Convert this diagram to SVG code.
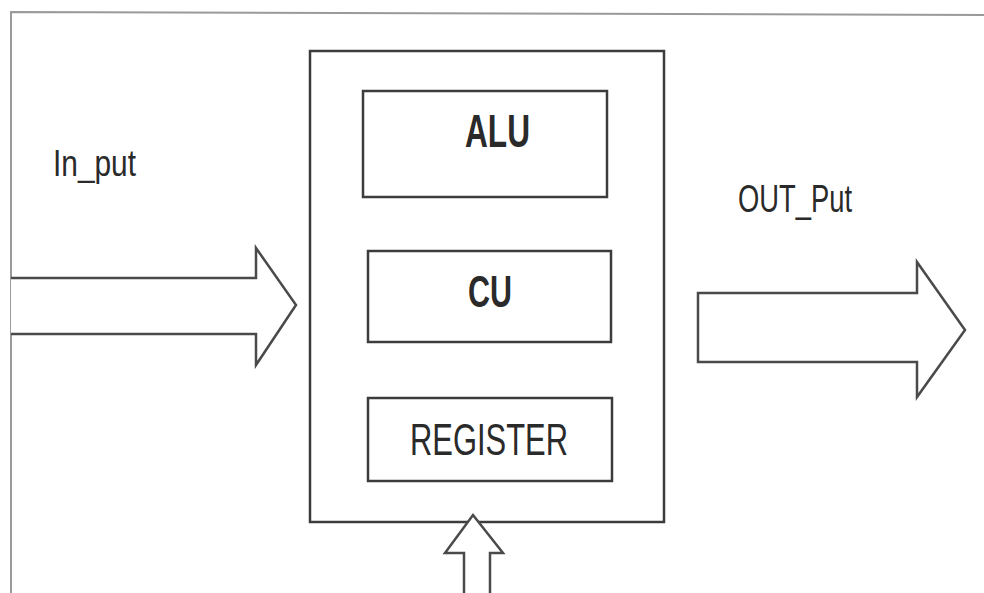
<svg xmlns="http://www.w3.org/2000/svg" width="984" height="593" viewBox="0 0 984 593">
<style>
.frame{fill:none;stroke:#9a9a9a;stroke-width:2}
.box{fill:#fff;stroke:#3c3c3c;stroke-width:2.5}
.arrow{fill:#fff;stroke:#4a4a4a;stroke-width:2.5;stroke-linejoin:miter}
.lbl{font-family:"Liberation Sans",Arial,sans-serif;fill:#2a2a2a}
.b{font-weight:bold}
</style>
<rect width="984" height="593" fill="#fff"/>
<g id="frame">
<path class="frame" d="M11,593 L11,12 L984,15"/>
</g>
<g id="cpu">
<rect class="box" x="310" y="51" width="354" height="471"/>
</g>
<g id="alu">
<rect class="box" x="363" y="91" width="244" height="106"/>
<text class="lbl b" x="465" y="147" font-size="46" textLength="65" lengthAdjust="spacingAndGlyphs">ALU</text>
</g>
<g id="cu">
<rect class="box" x="368" y="251" width="243" height="91"/>
<text class="lbl b" x="468" y="307" font-size="45" textLength="44" lengthAdjust="spacingAndGlyphs">CU</text>
</g>
<g id="register">
<rect class="box" x="368" y="398" width="244" height="83"/>
<text class="lbl" x="410" y="455" font-size="44" textLength="158" lengthAdjust="spacingAndGlyphs">REGISTER</text>
</g>
<g id="labels">
<text class="lbl" x="53" y="176" font-size="36" textLength="83" lengthAdjust="spacingAndGlyphs">In_put</text>
<text class="lbl" x="738" y="212" font-size="38" textLength="114" lengthAdjust="spacingAndGlyphs">OUT_Put</text>
</g>
<g id="connectors">
<path class="arrow" d="M11,278 L256,278 L256,248 L296,305 L256,365 L256,334 L11,334"/>
<path class="arrow" d="M698,293 L917,293 L917,262 L965,330 L917,397 L917,362 L698,362 Z"/>
<path class="arrow" d="M464,594 L464,553 L445,553 L473,515 L503,553 L490,553 L490,594"/>
</g>
</svg>
